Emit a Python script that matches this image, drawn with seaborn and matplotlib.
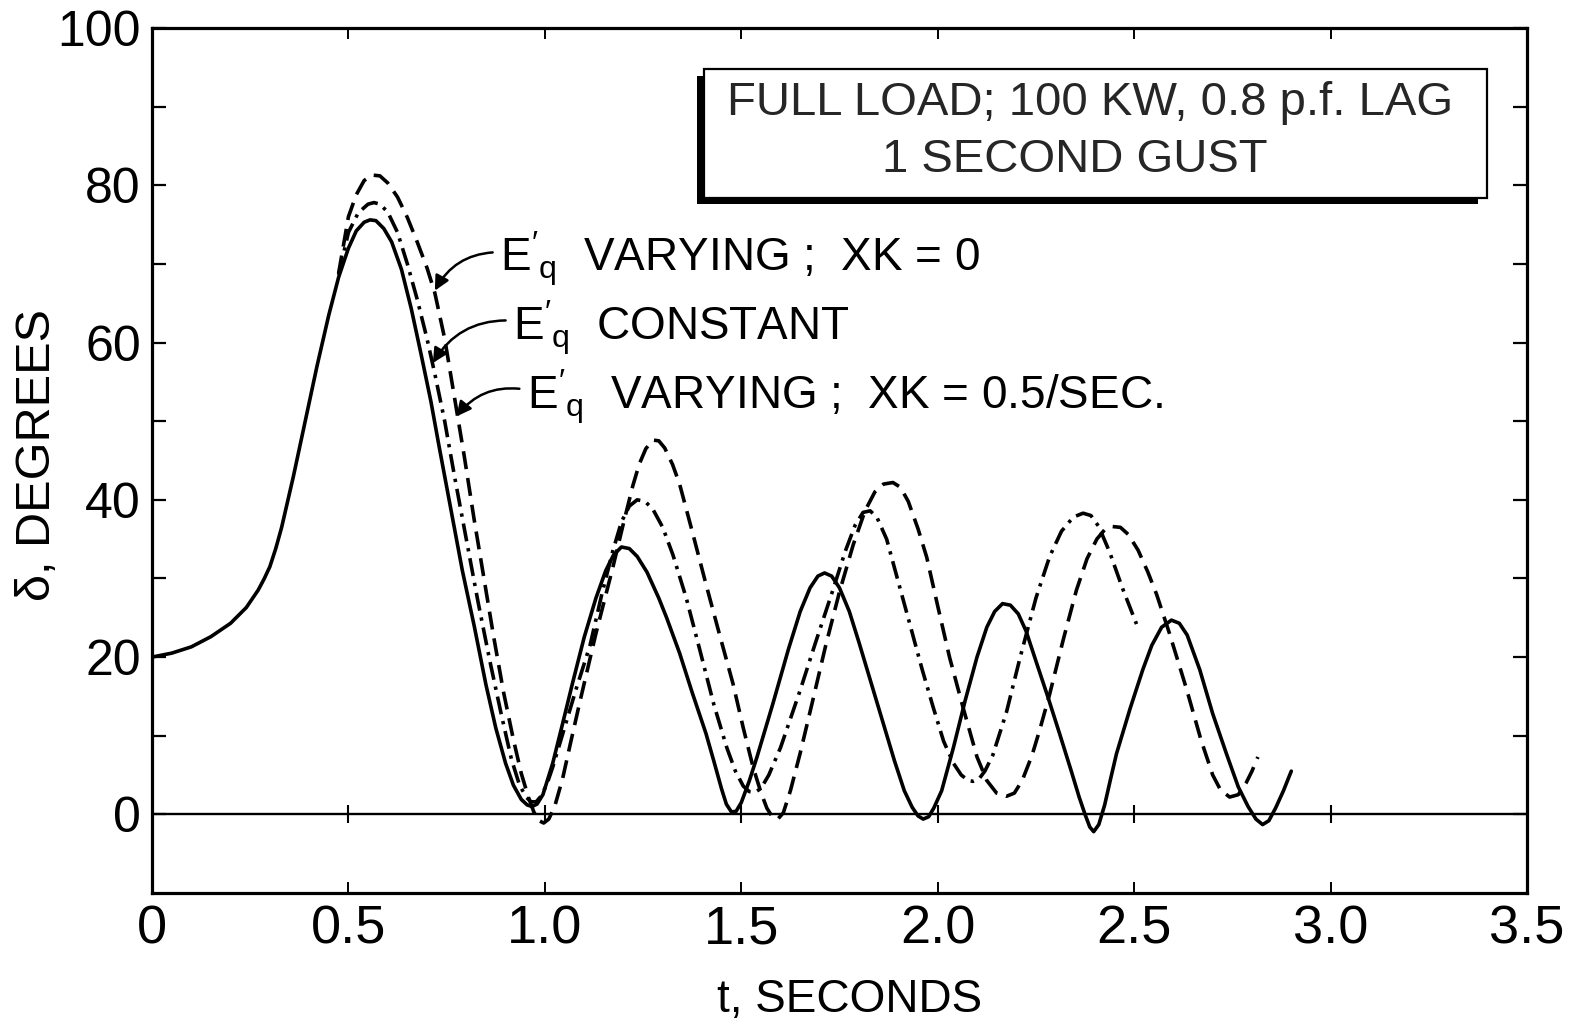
import matplotlib
matplotlib.use("Agg")
import matplotlib.pyplot as plt
from matplotlib.patches import Rectangle
import pandas as pd
import seaborn as sns

# Rotor angle swing, full load, 1 second gust
# E'q varying, XK = 0.5/sec (solid)
t_xk05 = [0.00, 0.05, 0.10, 0.15, 0.20, 0.24, 0.27, 0.285, 0.30, 0.315, 0.33, 0.36,
          0.39, 0.42, 0.45, 0.475, 0.50, 0.52, 0.54, 0.555, 0.57, 0.59, 0.61, 0.635,
          0.66, 0.685, 0.71, 0.73, 0.76, 0.79, 0.82, 0.85, 0.875, 0.90, 0.92, 0.94,
          0.955, 0.967, 0.98, 0.995, 1.02, 1.045, 1.07, 1.10, 1.13, 1.155, 1.175, 1.195,
          1.215, 1.235, 1.26, 1.29, 1.31, 1.343, 1.375, 1.41, 1.43, 1.45, 1.462, 1.475,
          1.487, 1.50, 1.52, 1.54, 1.58, 1.62, 1.65, 1.675, 1.695, 1.712, 1.73, 1.75,
          1.775, 1.80, 1.83, 1.86, 1.89, 1.915, 1.935, 1.95, 1.963, 1.977, 1.99, 2.01,
          2.04, 2.07, 2.10, 2.125, 2.145, 2.165, 2.185, 2.205, 2.225, 2.25, 2.28, 2.31,
          2.34, 2.36, 2.375, 2.387, 2.397, 2.41, 2.425, 2.44, 2.455, 2.49, 2.522, 2.545,
          2.57, 2.595, 2.615, 2.635, 2.667, 2.70, 2.735, 2.765, 2.79, 2.81, 2.827, 2.843,
          2.86, 2.88, 2.90]
d_xk05 = [20.0, 20.5, 21.3, 22.6, 24.3, 26.3, 28.5, 29.9, 31.5, 33.8, 36.5, 43.0,
          50.0, 57.0, 63.5, 68.3, 72.0, 74.2, 75.3, 75.6, 75.5, 74.5, 72.8, 69.3,
          64.3, 58.5, 52.5, 47.0, 39.0, 31.0, 24.0, 16.5, 11.0, 6.5, 3.7, 1.9,
          1.2, 1.0, 1.3, 2.5, 6.5, 11.5, 16.6, 22.5, 27.5, 31.0, 33.0, 34.0,
          33.8, 32.8, 30.8, 27.5, 25.0, 20.5, 15.5, 10.3, 6.8, 3.2, 1.3, 0.3,
          0.4, 1.5, 4.2, 7.3, 14.0, 21.0, 25.8, 28.8, 30.3, 30.7, 30.3, 28.8,
          25.8, 21.8, 16.8, 11.8, 6.8, 3.0, 0.9, -0.2, -0.6, -0.3, 0.8, 3.0,
          8.5, 14.5, 20.0, 23.8, 25.8, 26.8, 26.6, 25.5, 23.3, 19.5, 15.0, 10.3,
          5.5, 2.2, 0.0, -1.6, -2.2, -1.3, 1.2, 4.5, 7.7, 13.5, 18.4, 21.5,
          23.8, 24.7, 24.3, 22.8, 18.4, 12.8, 7.7, 3.5, 1.0, -0.6, -1.3, -0.8,
          0.8, 3.0, 5.5]

# E'q constant (dash-dot)
t_const = [0.475, 0.50, 0.525, 0.55, 0.565, 0.58, 0.60, 0.625, 0.65, 0.675, 0.70,
           0.72, 0.745, 0.77, 0.80, 0.83, 0.86, 0.89, 0.915, 0.935, 0.952, 0.965, 0.978,
           0.99, 1.005, 1.02, 1.05, 1.08, 1.115, 1.145, 1.173, 1.195, 1.215, 1.235, 1.255,
           1.275, 1.30, 1.326, 1.36, 1.394, 1.43, 1.463, 1.485, 1.505, 1.52, 1.535, 1.55,
           1.57, 1.60, 1.65, 1.69, 1.733, 1.765, 1.79, 1.81, 1.828, 1.845, 1.87, 1.90,
           1.929, 1.96, 1.988, 2.015, 2.04, 2.06, 2.078, 2.09, 2.105, 2.12, 2.14, 2.175,
           2.21, 2.25, 2.285, 2.315, 2.345, 2.37, 2.39, 2.41, 2.438, 2.47, 2.506]
d_const = [68.6, 74.0, 76.5, 77.6, 77.8, 77.6, 76.6, 74.0, 70.0, 65.5, 60.5,
           56.0, 50.0, 43.0, 35.0, 27.0, 19.5, 12.5, 7.0, 3.8, 2.2, 1.6, 1.6,
           2.3, 3.8, 6.0, 11.0, 16.0, 21.5, 28.0, 33.5, 37.2, 39.2, 40.0, 39.8,
           38.8, 36.5, 33.0, 27.5, 21.0, 14.0, 8.5, 5.5, 3.6, 2.9, 2.8, 3.3,
           5.0, 8.5, 15.8, 22.0, 28.5, 33.5, 36.8, 38.4, 38.6, 37.8, 35.0, 29.5,
           24.2, 18.5, 13.7, 9.3, 6.5, 5.0, 4.3, 4.2, 4.5, 5.5, 7.5, 13.0,
           20.0, 27.5, 32.8, 36.0, 37.8, 38.3, 38.0, 36.6, 33.3, 28.8, 24.2]

# E'q varying, XK = 0 (dashed)
t_xk0 = [0.475, 0.50, 0.52, 0.54, 0.56, 0.58, 0.60, 0.625, 0.65, 0.675, 0.70,
         0.72, 0.745, 0.77, 0.795, 0.82, 0.845, 0.87, 0.895, 0.92, 0.94, 0.958, 0.972,
         0.985, 0.997, 1.01, 1.025, 1.045, 1.065, 1.09, 1.13, 1.173, 1.20, 1.224, 1.24,
         1.257, 1.275, 1.29, 1.305, 1.325, 1.343, 1.375, 1.41, 1.445, 1.479, 1.505, 1.53,
         1.55, 1.565, 1.58, 1.593, 1.607, 1.625, 1.65, 1.682, 1.715, 1.75, 1.785, 1.815,
         1.84, 1.862, 1.886, 1.905, 1.925, 1.95, 1.972, 2.0, 2.03, 2.065, 2.1, 2.125,
         2.15, 2.175, 2.195, 2.215, 2.24, 2.26, 2.285, 2.32, 2.353, 2.38, 2.405, 2.425,
         2.445, 2.465, 2.485, 2.51, 2.535, 2.557, 2.59, 2.633, 2.67, 2.70, 2.72, 2.743,
         2.765, 2.785, 2.80, 2.815]
d_xk0 = [68.8, 76.0, 78.8, 80.6, 81.3, 81.2, 80.3, 78.5, 75.9, 72.8, 69.5,
         66.3, 60.5, 53.0, 45.5, 37.5, 30.0, 22.5, 15.5, 9.5, 5.2, 2.2, 0.3,
         -0.8, -1.1, -0.6, 1.0, 4.5, 9.0, 14.5, 23.0, 31.4, 37.0, 41.8, 44.5,
         46.5, 47.6, 47.5, 46.6, 44.5, 42.0, 36.0, 29.3, 22.8, 16.6, 11.0, 6.0,
         2.8, 0.8, -0.4, -0.6, 0.2, 3.0, 7.8, 14.5, 21.5, 28.3, 34.3, 38.6,
         41.0, 42.0, 42.2, 41.6, 39.8, 36.3, 32.7, 26.5, 20.0, 13.5, 7.3, 4.3,
         2.7, 2.3, 2.7, 4.3, 7.5, 10.8, 15.3, 22.3, 28.5, 32.5, 35.0, 36.2,
         36.6, 36.5, 35.6, 33.6, 30.8, 28.0, 23.0, 16.0, 9.5, 5.0, 3.1, 2.2,
         2.5, 4.0, 5.5, 7.3]

x_ticks = [0, 0.5, 1.0, 1.5, 2.0, 2.5, 3.0, 3.5]
x_tick_labels = ["0", "0.5", "1.0", "1.5", "2.0", "2.5", "3.0", "3.5"]
y_ticks = [0, 10, 20, 30, 40, 50, 60, 70, 80, 90, 100]
y_tick_labels = ["0", "", "20", "", "40", "", "60", "", "80", "", "100"]

box_lines = ["FULL LOAD; 100 KW, 0.8 p.f. LAG", "1 SECOND GUST"]
curve_labels = [r"$\mathregular{E'_q}$  VARYING ;  XK = 0",
                r"$\mathregular{E'_q}$  CONSTANT",
                r"$\mathregular{E'_q}$  VARYING ;  XK = 0.5/SEC."]

sns.set_theme(style="white")
plt.rcParams["font.family"] = ["Liberation Sans", "DejaVu Sans"]
plt.rcParams["mathtext.fontset"] = "custom"
plt.rcParams["mathtext.rm"] = "Liberation Sans"
plt.rcParams["lines.scale_dashes"] = False

W, H = 1572, 1026
fig = plt.figure(figsize=(W / 100, H / 100), dpi=100)
fig.patch.set_facecolor("white")
ax = fig.add_axes([152 / W, 1 - 893 / H, (1527 - 152) / W, (893 - 28) / H])
ax.set_facecolor("white")

frames = [
    (pd.DataFrame({"t": t_xk05, "delta": d_xk05}), None),
    (pd.DataFrame({"t": t_const, "delta": d_const}), (13, 5, 2.4, 5)),
    (pd.DataFrame({"t": t_xk0, "delta": d_xk0}), (13, 6.5)),
]
for df, dash in frames:
    line_ax = sns.lineplot(data=df, x="t", y="delta", color="black", lw=2.6,
                           estimator=None, sort=False, ax=ax)
    ln = line_ax.get_lines()[-1]
    ln.set_solid_joinstyle("round")
    if dash is not None:
        ln.set_dashes(dash)
        ln.set_dash_capstyle("butt")
ax.set_xlabel("")
ax.set_ylabel("")

# zero reference line with crossing ticks
ax.axhline(0, color="black", lw=1.7, zorder=1)
ax.plot(x_ticks[1:-1], [0] * (len(x_ticks) - 2), ls="none", marker="|",
        ms=13, mew=1.5, color="black")

ax.set_xlim(0, 3.5)
ax.set_ylim(-10, 100)
ax.set_xticks(x_ticks)
ax.set_xticklabels(x_tick_labels, fontsize=39)
ax.set_yticks(y_ticks)
ax.set_yticklabels(y_tick_labels, fontsize=36)
ax.tick_params(axis="x", direction="in", length=8, width=1.4, top=True,
               bottom=True, pad=8, colors="black")
ax.tick_params(axis="y", direction="in", length=10, width=1.6, left=True,
               right=True, pad=8, colors="black")
for s in ax.spines.values():
    s.set_visible(True)
    s.set_color("black")
    s.set_linewidth(2.3)

fig.text(850 / W, 1 - 1000 / H, "t, SECONDS", fontsize=33, ha="center",
         va="center", color="black")
fig.text(38 / W, 1 - 455 / H, "δ, DEGREES", fontsize=35, ha="center",
         va="center", rotation=90, color="black")

# condition box with a drop shadow on the lower-left
shadow = Rectangle((697 / W, 1 - 204 / H), 781 / W, 128 / H, transform=fig.transFigure,
                   facecolor="black", edgecolor="black", lw=0, zorder=5)
box = Rectangle((704 / W, 1 - 198 / H), 783 / W, 129 / H, transform=fig.transFigure,
                facecolor="white", edgecolor="black", lw=1.6, zorder=6)
fig.patches.extend([shadow, box])
fig.text(1090 / W, 1 - 103 / H, box_lines[0], ha="center", va="center",
         fontsize=34, zorder=7)
fig.text(1075 / W, 1 - 160 / H, box_lines[1], ha="center", va="center",
         fontsize=34, zorder=7)

# curve labels with curved leader arrows
label_pos = [(0.886, 70.6), (0.919, 61.9), (0.954, 53.1)]
arrow_tips = [(0.72, 66.6), (0.715, 57.4), (0.775, 50.6)]
for txt, pos, tip in zip(curve_labels, label_pos, arrow_tips):
    ax.annotate(txt, xy=tip, xytext=pos, fontsize=33, ha="left", va="center",
                color="black",
                arrowprops=dict(arrowstyle="-|>", color="black", lw=1.8,
                                mutation_scale=22, shrinkA=3, shrinkB=0,
                                connectionstyle="arc3,rad=0.3",
                                relpos=(0.0, 0.62)))

fig.savefig("out.png", dpi=100, facecolor="white")
